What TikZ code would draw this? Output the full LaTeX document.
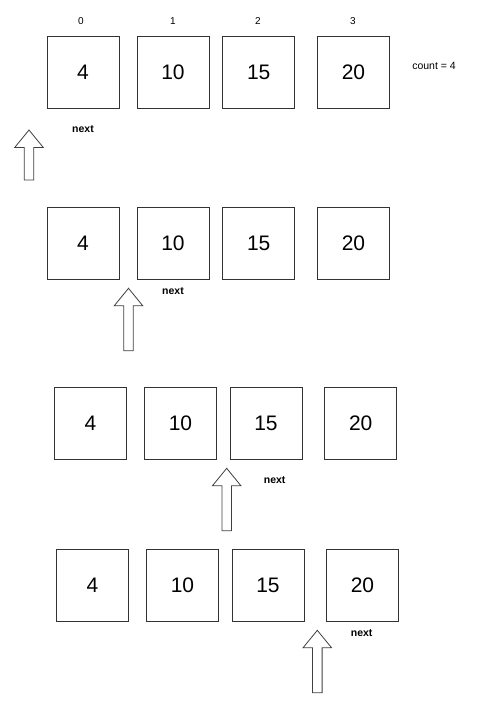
\documentclass[tikz,border=0pt]{standalone}
\usepackage{fontspec}
\setmainfont{Liberation Sans}
\begin{document}
\begin{tikzpicture}[x=1pt,y=-1pt,
  cell/.style={draw=black!80, line width=0.9pt, minimum width=72pt, minimum height=72pt, inner sep=0pt, font=\fontsize{21}{24}\selectfont},
  idx/.style={font=\fontsize{10}{12}\selectfont, inner sep=0pt},
  nxt/.style={font=\bfseries\fontsize{10.5}{12}\selectfont, inner sep=0pt},
  blk/.style={draw=black!75, line width=0.8pt, fill=white, line join=miter}]
\useasboundingbox (0,0) rectangle (495,724);
\newcommand\blockarrowup[4]{% name, cx, tip y, shaft length
  \coordinate (#1) at (#2,#3);
  \draw[blk] (#1) -- ++(14.3,17.5) -- ++(-9.5,0) -- ++(0,#4) -- ++(-9.6,0) -- ++(0,-#4) -- ++(-9.5,0) -- cycle;}
% indices
\node[idx] (i0) at (81,21) {0};
\node[idx] (i1) at (173,21) {1};
\node[idx] (i2) at (258,21) {2};
\node[idx] (i3) at (353,21) {3};
\node[idx, font=\fontsize{10.5}{12}\selectfont] (cnt) at (434,66) {count = 4};
% row 1
\node[cell] (a1) at (83,72) {4};
\node[cell] (a2) at (173,72) {10};
\node[cell] (a3) at (258.7,72) {15};
\node[cell] (a4) at (353.5,72) {20};
\node[nxt] (n1) at (83,129) {next};
\blockarrowup{p1}{29}{130}{32.5}
% row 2
\node[cell] (b1) at (83,243) {4};
\node[cell] (b2) at (173,243) {10};
\node[cell] (b3) at (258.7,243) {15};
\node[cell] (b4) at (353.5,243) {20};
\node[nxt] (n2) at (173,291) {next};
\blockarrowup{p2}{128.5}{288.3}{44.9}
% row 3
\node[cell] (c1) at (90.5,423) {4};
\node[cell] (c2) at (180.5,423) {10};
\node[cell] (c3) at (266,423) {15};
\node[cell] (c4) at (360.7,423) {20};
\node[nxt] (n3) at (274.7,480) {next};
\blockarrowup{p3}{226.7}{468.3}{44.9}
% row 4
\node[cell] (d1) at (92.5,585) {4};
\node[cell] (d2) at (182.5,585) {10};
\node[cell] (d3) at (268,585) {15};
\node[cell] (d4) at (362.5,585) {20};
\node[nxt] (n4) at (361.7,633.3) {next};
\blockarrowup{p4}{317.3}{630.3}{44.9}
\end{tikzpicture}
\end{document}
